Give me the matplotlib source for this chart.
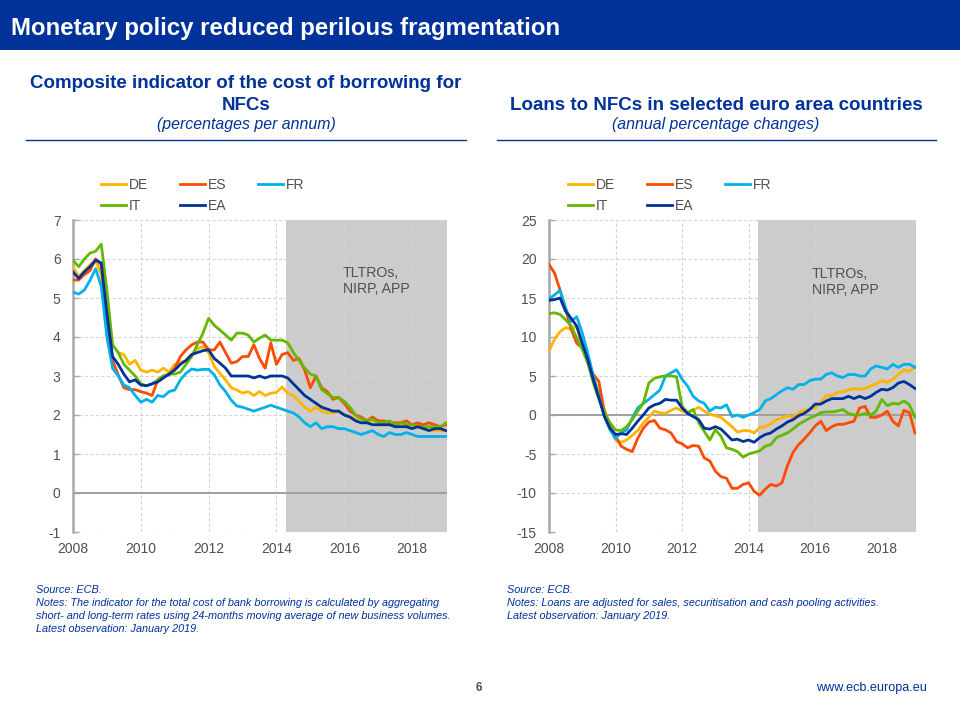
import numpy as np
import matplotlib
matplotlib.use("Agg")
import matplotlib.pyplot as plt
from matplotlib.patches import Rectangle

plt.rcParams['font.family'] = ['Liberation Sans', 'DejaVu Sans']
plt.rcParams['axes.unicode_minus'] = False

# two-monthly readings, Jan 2008 to Jan 2019
left_de = [5.8,5.55,5.7,5.85,5.97,5.6, 4.5,3.8,3.6,3.55,3.3,3.4, 3.15,3.1,3.15,3.1,3.2,3.1,
           3.3,3.35,3.4,3.55,3.7,3.75, 3.6,3.25,3.07,2.9,2.7,2.64, 2.56,2.6,2.5,2.6,2.5,2.56,
           2.58,2.72,2.55,2.5,2.35,2.2, 2.1,2.2,2.1,2.05,2.05,2.1, 2.0,1.95,1.9,1.9,1.8,1.85,
           1.85,1.75,1.8,1.8,1.75,1.75, 1.7,1.75,1.7,1.65,1.6,1.6, 1.6]
left_es = [5.46,5.46,5.6,5.7,6.0,5.85, 4.4,3.4,3.03,2.7,2.65,2.65, 2.6,2.56,2.5,2.9,3.0,3.03,
           3.2,3.5,3.67,3.8,3.87,3.87, 3.67,3.67,3.87,3.6,3.33,3.37, 3.5,3.5,3.8,3.45,3.2,3.85,
           3.3,3.55,3.6,3.4,3.45,3.15, 2.7,3.0,2.7,2.6,2.4,2.45, 2.3,2.1,2.0,1.95,1.85,1.95,
           1.85,1.85,1.8,1.8,1.8,1.85, 1.75,1.8,1.75,1.8,1.75,1.7, 1.75]
left_fr = [5.15,5.1,5.2,5.45,5.75,5.3, 4.0,3.2,3.0,2.77,2.7,2.5, 2.33,2.4,2.33,2.5,2.47,2.6,
           2.64,2.9,3.07,3.18,3.15,3.17, 3.17,3.03,2.77,2.6,2.38,2.23, 2.2,2.15,2.1,2.15,2.2,2.25,
           2.2,2.15,2.1,2.05,1.95,1.8, 1.7,1.8,1.65,1.7,1.7,1.65, 1.65,1.6,1.55,1.5,1.55,1.6,
           1.5,1.45,1.55,1.5,1.5,1.55, 1.5,1.45,1.45,1.45,1.45,1.45, 1.45]
left_it = [5.97,5.8,6.0,6.15,6.2,6.38, 5.2,3.8,3.6,3.3,3.15,3.0, 2.8,2.75,2.8,2.9,3.0,3.05,
           3.05,3.1,3.3,3.5,3.8,4.1, 4.48,4.3,4.18,4.05,3.92,4.1, 4.1,4.05,3.87,3.97,4.05,3.92,
           3.92,3.92,3.85,3.6,3.4,3.2, 3.05,3.0,2.65,2.55,2.45,2.45, 2.35,2.2,2.0,1.9,1.85,1.9,
           1.8,1.8,1.85,1.75,1.8,1.75, 1.75,1.7,1.7,1.7,1.7,1.7, 1.8]
left_ea = [5.67,5.5,5.67,5.8,5.97,5.9, 4.6,3.5,3.3,3.05,2.85,2.9, 2.77,2.75,2.8,2.85,2.95,3.05,
           3.15,3.3,3.4,3.55,3.6,3.65, 3.67,3.45,3.33,3.2,3.0,3.0, 3.0,3.0,2.95,3.0,2.95,3.0,
           3.0,3.0,2.95,2.8,2.65,2.5, 2.4,2.3,2.2,2.15,2.1,2.1, 2.0,1.95,1.85,1.8,1.8,1.75,
           1.75,1.75,1.75,1.7,1.7,1.7, 1.65,1.7,1.65,1.6,1.65,1.65, 1.6]

right_de = [8.2,9.7,10.7,11.2,11.0,11.4, 8.8,6.7,5.0,2.8,0.7,-1.5, -3.2,-3.5,-3.2,-2.6,-2.0,-1.0,
            -0.3,0.5,0.3,0.2,0.6,0.9, 0.5,0.3,0.6,1.0,0.5,0.1, -0.1,-0.3,-0.9,-1.5,-2.2,-2.0,
            -2.0,-2.3,-1.6,-1.5,-1.1,-0.6, -0.4,-0.1,-0.3,0.3,0.6,0.8, 0.9,1.6,2.5,2.5,2.9,3.0,
            3.2,3.4,3.3,3.4,3.7,4.0, 4.4,4.2,4.6,5.2,5.8,5.6, 6.2]
right_es = [19.3,18.2,16.0,13.5,11.0,9.2, 8.6,6.7,5.2,4.3,0.3,-1.5, -2.7,-4.0,-4.4,-4.7,-3.0,-1.7,
            -0.9,-0.7,-1.7,-1.9,-2.3,-3.4, -3.7,-4.2,-3.9,-4.0,-5.5,-5.9, -7.2,-7.9,-8.1,-9.4,-9.4,-8.9,
            -8.7,-9.8,-10.3,-9.5,-8.9,-9.1, -8.7,-6.5,-4.8,-3.8,-3.1,-2.3, -1.4,-0.8,-2.0,-1.5,-1.2,-1.2,
            -1.0,-0.8,0.9,1.1,-0.3,-0.3, 0.0,0.5,-0.8,-1.4,0.6,0.3, -2.3]
right_fr = [14.9,15.4,16.0,13.7,12.0,12.6, 10.5,7.9,5.0,2.4,-0.2,-1.9, -3.0,-2.3,-1.9,-0.4,0.9,1.5,
            2.0,2.6,3.2,5.0,5.4,5.8, 4.6,3.7,2.4,1.8,1.5,0.5, 1.0,0.9,1.3,-0.2,0.0,-0.3,
            0.0,0.3,0.7,1.8,2.1,2.6, 3.1,3.5,3.3,3.9,3.9,4.4, 4.6,4.6,5.2,5.4,5.0,4.8,
            5.2,5.2,5.0,5.0,5.9,6.3, 6.1,5.9,6.5,6.1,6.5,6.5, 6.1]
right_it = [13.0,13.1,12.9,12.2,11.4,9.9, 8.4,6.7,4.1,2.0,0.3,-1.0, -1.9,-2.0,-1.5,-0.6,0.5,1.5,
            4.1,4.7,4.9,5.0,5.0,4.9, 1.1,0.3,0.7,-1.0,-2.1,-3.2, -1.9,-2.7,-4.2,-4.4,-4.7,-5.4,
            -5.0,-4.8,-4.6,-4.0,-3.8,-2.9, -2.6,-2.3,-1.8,-1.2,-0.8,-0.4, -0.1,0.3,0.4,0.4,0.5,0.7,
            0.2,0.0,0.0,0.2,0.0,0.5, 2.0,1.2,1.5,1.4,1.8,1.3, -0.3]
right_ea = [14.7,14.8,15.0,13.3,12.4,11.4, 9.2,7.1,4.5,2.2,-0.2,-1.7, -2.5,-2.4,-2.5,-1.7,-0.8,0.0,
            0.9,1.3,1.5,2.0,1.9,1.9, 0.9,0.2,-0.2,-0.6,-1.7,-1.8, -1.5,-1.8,-2.5,-3.2,-3.1,-3.4,
            -3.2,-3.5,-2.9,-2.5,-2.3,-1.8, -1.4,-0.9,-0.6,-0.1,0.2,0.7, 1.4,1.4,1.8,2.1,2.1,2.1,
            2.4,2.1,2.4,2.1,2.4,2.9, 3.3,3.2,3.5,4.1,4.3,3.9, 3.4]

names = ['DE', 'ES', 'FR', 'IT', 'EA']
colors = ['#FFB400', '#FF4B00', '#00B1EA', '#65B800', '#003299']
year_ticks = [2008, 2010, 2012, 2014, 2016, 2018]
left_yticks = [-1, 0, 1, 2, 3, 4, 5, 6, 7]
right_yticks = [-15, -10, -5, 0, 5, 10, 15, 20, 25]
shade_start = 2014.28
shade_end = 2019.03

blue = '#003299'
grey = '#505050'
W, H = 960, 720

fig = plt.figure(figsize=(9.6, 7.2), dpi=100)


def ptext(x, y, s, **kw):
    # pixel coordinates, y measured from the top
    fig.text(x / W, 1 - y / H, s, **kw)


def draw_panel(box, series, yticks, note_x, note_y, legend_x):
    ax = fig.add_axes([box[0] / W, 1 - box[3] / H, (box[2] - box[0]) / W, (box[3] - box[1]) / H])
    ax.axvspan(shade_start, shade_end, color='#CCCCCC', lw=0, zorder=0)
    lines = {}
    for vals, name, c in zip(series, names, colors):
        x = np.linspace(2008, 2019, len(vals))
        lines[name] = ax.plot(x, vals, color=c, lw=2.0, label=name, zorder=3, solid_joinstyle='round')[0]
    ax.set_xlim(2008, shade_end)
    ax.set_ylim(yticks[0], yticks[-1])
    ax.set_xticks(year_ticks)
    ax.set_yticks(yticks)
    ax.grid(True, color='#D4D4D4', lw=0.8, dashes=(3, 2), zorder=1)
    ax.set_axisbelow(True)
    ax.axhline(0, color='#A0A0A0', lw=1.4, zorder=2)
    for s in ['top', 'right', 'bottom']:
        ax.spines[s].set_visible(False)
    ax.spines['left'].set_color('#A8A8A8')
    ax.spines['left'].set_linewidth(1.8)
    ax.tick_params(axis='x', length=0, labelsize=10, labelcolor=grey, pad=7)
    ax.tick_params(axis='y', length=4, direction='in', color='#A8A8A8', width=1, labelsize=10,
                   labelcolor=grey, pad=9)
    ax.text(note_x, note_y, 'TLTROs,\nNIRP, APP', color=grey, fontsize=10.2, va='top', linespacing=1.2)
    # matplotlib fills legend columns first, so this order reads DE ES FR / IT EA
    order = ['DE', 'IT', 'ES', 'EA', 'FR']
    ax.legend([lines[n] for n in order], order, loc='lower left', bbox_to_anchor=(legend_x, 1.024), ncol=3,
              frameon=False, fontsize=10, labelcolor=grey, handlelength=1.8, handletextpad=0.2,
              columnspacing=2.3, labelspacing=0.45, borderpad=0, borderaxespad=0)
    return ax


# header band
fig.add_artist(Rectangle((0, 1 - 50 / H), 1, 50 / H, transform=fig.transFigure, color=blue, lw=0))
ptext(11, 28, 'Monetary policy reduced perilous fragmentation', color='white', fontsize=17.3,
      fontweight='bold', va='center')

# panel headings
ptext(246, 83, 'Composite indicator of the cost of borrowing for', color=blue, fontsize=13.5,
      fontweight='bold', ha='center', va='center')
ptext(246, 105, 'NFCs', color=blue, fontsize=13.5, fontweight='bold', ha='center', va='center')
ptext(246, 125, '(percentages per annum)', color=blue, fontsize=11.4, style='italic', ha='center', va='center')
ptext(716, 105, 'Loans to NFCs in selected euro area countries', color=blue, fontsize=13.5,
      fontweight='bold', ha='center', va='center')
ptext(716, 125, '(annual percentage changes)', color=blue, fontsize=11.4, style='italic', ha='center', va='center')
for x0, x1 in [(26, 466), (497, 936)]:
    fig.add_artist(plt.Line2D([x0 / W, x1 / W], [1 - 140 / H] * 2, color=blue, lw=1))

draw_panel((73, 220, 447, 532), [left_de, left_es, left_fr, left_it, left_ea], left_yticks, 2015.96, 5.83, 0.075)
draw_panel((549, 220, 916, 532), [right_de, right_es, right_fr, right_it, right_ea], right_yticks, 2015.9, 19.0, 0.052)

# footnotes
foot = dict(color=blue, fontsize=7.85, style='italic', va='center')
ptext(36, 590, 'Source: ECB.', **foot)
ptext(36, 603, 'Notes: The indicator for the total cost of bank borrowing is calculated by aggregating', **foot)
ptext(36, 616, 'short- and long-term rates using 24-months moving average of new business volumes.', **foot)
ptext(36, 629, 'Latest observation: January 2019.', **foot)
ptext(507, 590, 'Source: ECB.', **foot)
ptext(507, 603, 'Notes: Loans are adjusted for sales, securitisation and cash pooling activities.', **foot)
ptext(507, 616, 'Latest observation: January 2019.', **foot)

ptext(479, 688, '6', color=grey, fontsize=8.5, fontweight='bold', ha='center', va='center')
ptext(927, 688, 'www.ecb.europa.eu', color=blue, fontsize=9.1, ha='right', va='center')

fig.savefig('out.png', dpi=100)
